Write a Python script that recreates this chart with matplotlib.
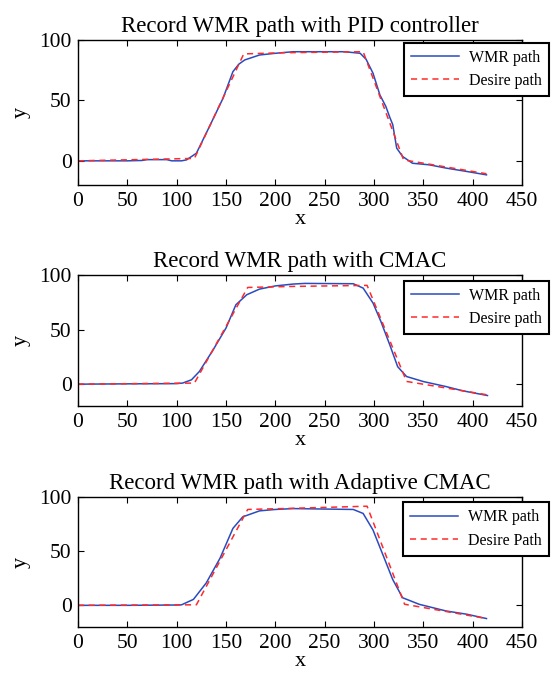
import matplotlib
matplotlib.use("Agg")
import matplotlib.pyplot as plt

plt.rcParams['font.family'] = ['Liberation Serif', 'DejaVu Serif']
plt.rcParams['mathtext.fontset'] = 'stix'

titles = ["Record WMR path with PID controller",
          "Record WMR path with CMAC",
          "Record WMR path with Adaptive CMAC"]
legend_wmr = ["WMR path", "WMR path", "WMR path"]
legend_des = ["Desire path", "Desire path", "Desire Path"]

x_ticks = [0, 50, 100, 150, 200, 250, 300, 350, 400, 450]
y_ticks = [0, 50, 100]

# Desired paths
des1_x = [0, 118, 168, 210, 289, 330, 414]
des1_y = [0, 2, 88.5, 89.5, 90.3, 0.8, -10.7]
des2_x = [0, 118, 172, 215, 293, 333, 415]
des2_y = [0, 1, 88.6, 89.5, 90.5, 2.5, -9.8]
des3_x = [0, 120, 172, 215, 293, 331, 414]
des3_y = [0, 0.5, 88.5, 89.5, 91.5, 1, -12.2]

# Recorded WMR paths
wmr1_x = [0, 50, 65, 70, 90, 95, 105, 110, 120, 133, 147, 157, 163, 169, 184, 200,
          218, 270, 280, 286, 292, 299, 306, 312, 316, 319, 323, 329, 339, 356, 373, 394, 414]
wmr1_y = [0, 0, 0.3, 1, 1, 0, 0, 0.8, 6.3, 28, 51.8, 73.8, 80, 83.5, 87.6, 89,
          90.3, 90.3, 89.5, 89, 84, 72.5, 54.5, 45, 36, 30, 10.5, 3.6, -2, -3.3, -6, -8.8, -11.6]
wmr2_x = [0, 50, 100, 106, 115, 123, 137, 150, 160, 171, 184, 200, 218, 230, 279,
          289, 299, 307, 316, 324, 333, 350, 373, 390, 415]
wmr2_y = [0, 0.3, 0.5, 1, 4, 11.6, 31.5, 51.4, 72.7, 81.9, 87.1, 90, 91.7, 92.3, 92,
          88, 74.3, 57.4, 36, 16, 7, 2.4, -2.2, -6.1, -10.4]
wmr3_x = [0, 50, 100, 105, 117, 130, 144, 157, 167, 184, 200, 218, 279, 289, 299,
          309, 319, 329, 346, 373, 394, 414]
wmr3_y = [0, 0, 0.3, 0.5, 5.5, 20.7, 43.6, 71, 81.7, 87.2, 88.5, 89.3, 88.5, 84.8, 69.5,
          46.7, 23.8, 7, 0.9, -5.2, -8.2, -12.2]

wmr_x = [wmr1_x, wmr2_x, wmr3_x]
wmr_y = [wmr1_y, wmr2_y, wmr3_y]
des_x = [des1_x, des2_x, des3_x]
des_y = [des1_y, des2_y, des3_y]

fig = plt.figure(figsize=(5.53, 6.73), dpi=100)
W, H = 553.0, 673.0
# (left, top, right, bottom) in pixels
boxes = [(78, 40, 522, 185), (78, 275, 522, 406), (78, 497, 522, 627)]
leg_top = [42.5, 280.7, 502.3]

for i in range(3):
    l, t, r, b = boxes[i]
    ax = fig.add_axes([l / W, 1 - b / H, (r - l) / W, (b - t) / H])
    ax.plot(wmr_x[i], wmr_y[i], color='#2a4bbf', lw=1.1, label=legend_wmr[i])
    ax.plot(des_x[i], des_y[i], color='#ff2a2a', lw=1.1, ls=(0, (4, 3)), label=legend_des[i])
    ax.set_xlim(0, 450)
    ax.set_ylim(-20, 100)
    ax.set_xticks(x_ticks)
    ax.set_yticks(y_ticks)
    ax.tick_params(direction='in', top=True, right=True, labelsize=15.5, length=4, width=0.8)
    ax.tick_params(axis='x', pad=5)
    ax.tick_params(axis='y', pad=4.5)
    for s in ax.spines.values():
        s.set_linewidth(1.0)
    ax.set_title(titles[i], fontsize=16.5, pad=6)
    ax.set_xlabel('x', fontsize=16, labelpad=-1)
    ax.set_ylabel('y', fontsize=16, labelpad=6)
    ytop = 1 - (leg_top[i] - t) / (b - t)
    leg = ax.legend(loc='upper right', bbox_to_anchor=(1.06, ytop), borderaxespad=0,
                    fontsize=11.5, handlelength=3.0, fancybox=False, framealpha=1,
                    edgecolor='black', borderpad=0.45, labelspacing=0.45, handletextpad=0.6)
    leg.get_frame().set_linewidth(1.5)

fig.savefig('out.png', dpi=100)
